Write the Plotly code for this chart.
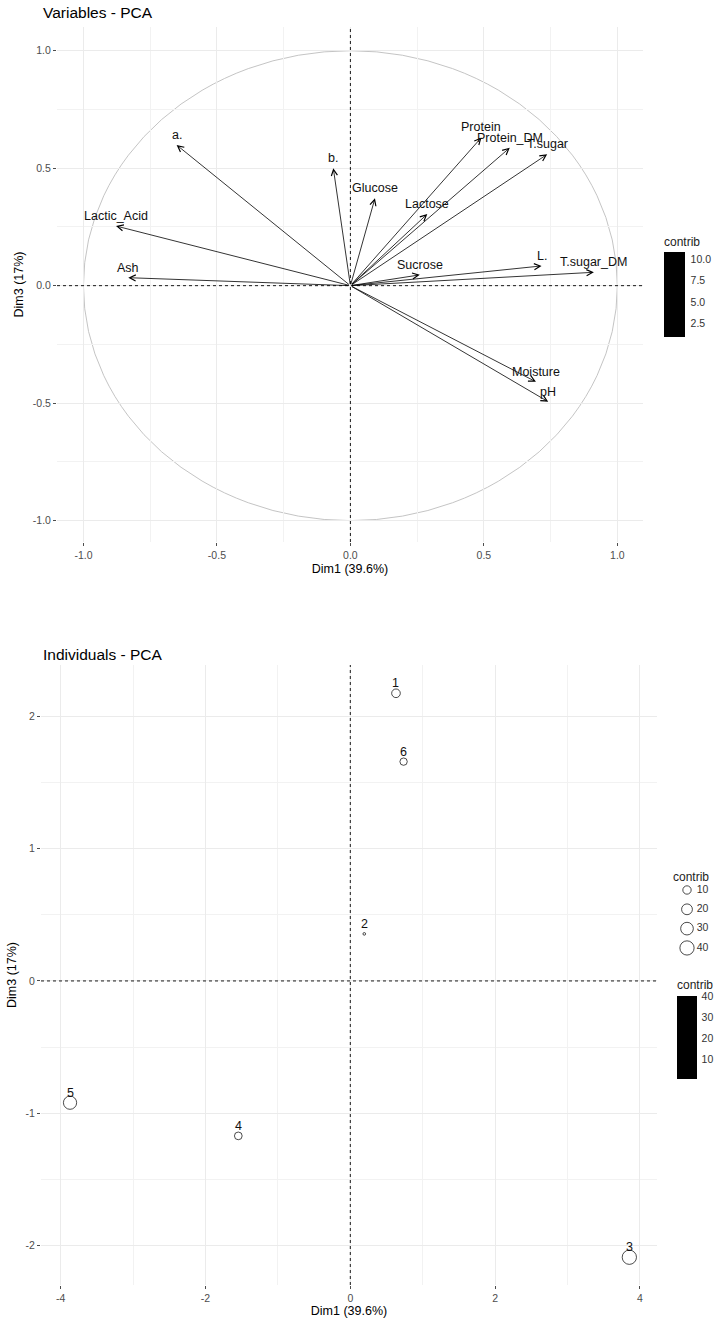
import math
import plotly.graph_objects as go

# ---------------- data ----------------
var_names = ["a.", "b.", "Lactic_Acid", "Ash", "Protein", "Protein_DM", "T.sugar",
             "Glucose", "Lactose", "Sucrose", "L.", "T.sugar_DM", "Moisture", "pH"]
var_dim1 = [-0.651, -0.064, -0.878, -0.832, 0.491, 0.597, 0.737,
            0.092, 0.288, 0.260, 0.716, 0.912, 0.695, 0.741]
var_dim3 = [0.599, 0.500, 0.254, 0.034, 0.631, 0.587, 0.559,
            0.372, 0.305, 0.046, 0.084, 0.057, -0.409, -0.494]
var_contrib = [9.85, 3.19, 10.50, 8.72, 8.04, 8.82, 10.75,
               1.85, 2.21, 0.88, 6.54, 10.50, 8.18, 9.97]

ind_names = ["1", "2", "3", "4", "5", "6"]
ind_dim1 = [0.631, 0.193, 3.854, -1.547, -3.871, 0.736]
ind_dim3 = [2.176, 0.356, -2.090, -1.172, -0.921, 1.659]
ind_contrib = [11.0, 0.37, 40.3, 8.0, 33.5, 6.9]

var_ticks = [-1.0, -0.5, 0.0, 0.5, 1.0]
var_ticklabels = ["-1.0", "-0.5", "0.0", "0.5", "1.0"]
ind_xticks = [-4, -2, 0, 2, 4]
ind_yticks = [-2, -1, 0, 1, 2]
var_cb_ticks = [2.5, 5.0, 7.5, 10.0]
var_cb_labels = ["2.5", "5.0", "7.5", "10.0"]
ind_cb_ticks = [10, 20, 30, 40]
size_breaks = [10, 20, 30, 40]

x_title = "Dim1 (39.6%)"
y_title = "Dim3 (17%)"

# ---------------- styles ----------------
FONT = "Liberation Sans, Arial, sans-serif"
GRID = "#ebebeb"
TICKC = "#4d4d4d"
BLACK_SCALE = [[0, "black"], [1, "black"]]
W, H = 714, 1318


def size_scale(v, lo=min(ind_contrib), hi=max(ind_contrib)):
    # ggplot-like area palette (range 1..6)
    t = (v - lo) / (hi - lo)
    t = max(0.0, min(1.0, t))
    return 2.33 * (1 + 5 * math.sqrt(t)) + 0.3


fig = go.Figure()

# invisible trace holding the variable colourbar
fig.add_trace(go.Scatter(
    x=var_dim1, y=var_dim3, mode="markers", xaxis="x", yaxis="y",
    showlegend=False, hoverinfo="skip",
    marker=dict(size=1, opacity=0, color=var_contrib, colorscale=BLACK_SCALE,
                showscale=True,
                colorbar=dict(
                    x=664 / W, xanchor="left", y=1 - 285.5 / H, yanchor="middle",
                    len=104 / H, lenmode="fraction", thickness=21,
                    outlinewidth=0, xpad=0, ypad=0,
                    title=dict(text="contrib", side="top",
                               font=dict(family=FONT, size=12, color="#222")),
                    tickvals=var_cb_ticks, ticktext=var_cb_labels,
                    ticks="outside", tickcolor="white", ticklen=4,
                    tickfont=dict(family=FONT, size=10.5, color="#333"))),
))

# individuals
fig.add_trace(go.Scatter(
    x=ind_dim1, y=ind_dim3, mode="markers", xaxis="x2", yaxis="y2",
    showlegend=False, hoverinfo="skip",
    marker=dict(symbol="circle-open", size=[size_scale(v) for v in ind_contrib],
                color=ind_contrib, colorscale=BLACK_SCALE, line=dict(width=1),
                showscale=True,
                colorbar=dict(
                    x=677 / W, xanchor="left", y=1 - 1028 / H, yanchor="middle",
                    len=102 / H, lenmode="fraction", thickness=20,
                    outlinewidth=0, xpad=0, ypad=0,
                    title=dict(text="contrib", side="top",
                               font=dict(family=FONT, size=12, color="#222")),
                    tickvals=ind_cb_ticks,
                    ticks="outside", tickcolor="white", ticklen=3,
                    tickfont=dict(family=FONT, size=10.5, color="#333"))),
))

# size guide (legend for point size), drawn on its own small axes
fig.add_trace(go.Scatter(
    x=[0.5] * len(size_breaks), y=size_breaks, mode="markers",
    xaxis="x3", yaxis="y3", showlegend=False, hoverinfo="skip",
    marker=dict(symbol="circle-open", size=[size_scale(b) for b in size_breaks],
                color="black", line=dict(width=1)),
))
fig.add_trace(go.Scatter(
    x=[0.68] * len(size_breaks), y=size_breaks, mode="text",
    text=[str(b) for b in size_breaks], textposition="middle right",
    xaxis="x3", yaxis="y3", showlegend=False, hoverinfo="skip",
    textfont=dict(family=FONT, size=10.5, color="#333"),
))

annotations = []
# variable arrows
for nm, x, y in zip(var_names, var_dim1, var_dim3):
    annotations.append(dict(
        x=x, y=y, xref="x", yref="y", ax=0, ay=0, axref="x", ayref="y",
        text="", showarrow=True, arrowhead=5, arrowsize=1.5, arrowwidth=0.8,
        arrowcolor="black", standoff=0, startstandoff=0))
    annotations.append(dict(
        x=x, y=y, xref="x", yref="y", text=nm, showarrow=False, yshift=10,
        xanchor="center", yanchor="middle",
        font=dict(family=FONT, size=12.5, color="#111")))

# individual labels
for nm, x, y in zip(ind_names, ind_dim1, ind_dim3):
    annotations.append(dict(
        x=x, y=y, xref="x2", yref="y2", text=nm, showarrow=False, yshift=10,
        xanchor="center", yanchor="middle",
        font=dict(family=FONT, size=12.5, color="#111")))

# titles
annotations.append(dict(x=41 / W, y=1 - 13 / H, xref="paper", yref="paper",
                        text="Variables - PCA", showarrow=False,
                        xanchor="left", yanchor="middle",
                        font=dict(family=FONT, size=15.5, color="black")))
annotations.append(dict(x=41 / W, y=1 - 654 / H, xref="paper", yref="paper",
                        text="Individuals - PCA", showarrow=False,
                        xanchor="left", yanchor="middle",
                        font=dict(family=FONT, size=15.5, color="black")))
annotations.append(dict(x=671 / W, y=1 - 877 / H, xref="paper", yref="paper",
                        text="contrib", showarrow=False,
                        xanchor="left", yanchor="middle",
                        font=dict(family=FONT, size=12, color="#222")))

shapes = [
    dict(type="circle", xref="x", yref="y", x0=-1, y0=-1, x1=1, y1=1,
         line=dict(color="#bdbdbd", width=0.9), layer="below"),
    dict(type="line", xref="x", yref="y domain", x0=0, x1=0, y0=0, y1=1,
         line=dict(color="black", width=0.9, dash="3px,3px")),
    dict(type="line", xref="x domain", yref="y", x0=0, x1=1, y0=0, y1=0,
         line=dict(color="black", width=0.9, dash="3px,3px")),
    dict(type="line", xref="x2", yref="y2 domain", x0=0, x1=0, y0=0, y1=1,
         line=dict(color="black", width=0.9, dash="3px,3px")),
    dict(type="line", xref="x2 domain", yref="y2", x0=0, x1=1, y0=0, y1=0,
         line=dict(color="black", width=0.9, dash="3px,3px")),
]


def axis(domain, rng, tickvals, ticktext, minor_dtick, title, standoff, anchor):
    return dict(
        domain=domain, range=rng, anchor=anchor,
        tickmode="array", tickvals=tickvals, ticktext=ticktext,
        showgrid=True, gridcolor=GRID, gridwidth=1,
        minor=dict(dtick=minor_dtick, tick0=0, showgrid=True,
                   gridcolor="#f2f2f2", gridwidth=0.8),
        zeroline=False, showline=False,
        ticks="outside", ticklen=3, tickwidth=1, tickcolor=TICKC,
        tickfont=dict(family=FONT, size=10.5, color=TICKC),
        title=dict(text=title, standoff=standoff,
                   font=dict(family=FONT, size=12.5, color="black")),
        fixedrange=True,
    )


hidden = dict(visible=False, fixedrange=True, showgrid=False, zeroline=False)

fig.update_layout(
    width=W, height=H, autosize=False,
    margin=dict(l=0, r=0, t=0, b=0, pad=0, autoexpand=False),
    paper_bgcolor="white", plot_bgcolor="white",
    font=dict(family=FONT),
    showlegend=False,
    xaxis=axis([57 / W, 643 / W], [-1.099, 1.096], var_ticks, var_ticklabels,
               0.25, x_title, 4, "y"),
    yaxis=axis([1 - 542 / H, 1 - 27 / H], [-1.091, 1.101], var_ticks, var_ticklabels,
               0.25, y_title, 6, "x"),
    xaxis2=axis([41 / W, 657 / W], [-4.272, 4.236], ind_xticks,
                [str(v) for v in ind_xticks], 1, x_title, 4, "y2"),
    yaxis2=axis([1 - 1285 / H, 1 - 665 / H], [-2.300, 2.390], ind_yticks,
                [str(v) for v in ind_yticks], 0.5, y_title, 6, "x2"),
    xaxis3=dict(hidden, domain=[660 / W, 1.0], range=[0, 1], anchor="y3"),
    yaxis3=dict(hidden, domain=[1 - 958 / H, 1 - 880 / H], range=[45.2, 4.83],
                anchor="x3"),
    annotations=annotations,
    shapes=shapes,
)

fig.write_html("out.html", config={"displayModeBar": False},
               post_script="document.body.style.margin='0';document.body.style.overflow='hidden';")
